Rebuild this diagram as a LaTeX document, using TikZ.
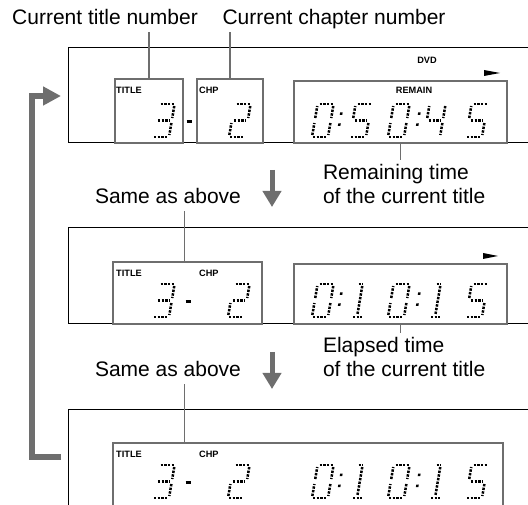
\documentclass[tikz,border=0pt]{standalone}
\usepackage{fontspec}
\setmainfont{Liberation Sans}
\usetikzlibrary{arrows.meta,positioning}

\definecolor{framegray}{HTML}{6E6E6E}

\newcommand{\sgA}{\draw[lcd] (2,33) -- (15,33);}
\newcommand{\sgB}{\draw[lcd] (16,31) -- (16,19);}
\newcommand{\sgC}{\draw[lcd] (16,14) -- (16,2);}
\newcommand{\sgD}{\draw[lcd] (1,0) -- (14,0);}
\newcommand{\sgE}{\draw[lcd] (0,2) -- (0,14);}
\newcommand{\sgF}{\draw[lcd] (0,19) -- (0,31);}
\newcommand{\sgG}{\draw[lcd] (2,16.5) -- (14,16.5);}
\newcommand{\dgZero}{\sgA\sgB\sgC\sgD\sgE\sgF}
\newcommand{\dgOne}{\draw[lcd] (9,31) -- (9,2); \draw[lcd] (5,33) -- (9,33); \draw[lcd] (5,0) -- (14,0);}
\newcommand{\dgTwo}{\sgA\sgB\sgG\sgE\sgD}
\newcommand{\dgThree}{\sgA\sgB\sgG\sgC\sgD}
\newcommand{\dgFour}{\sgF\sgG\sgB\sgC}
\newcommand{\dgFive}{\sgA\sgF\sgG\sgC\sgD}
\newcommand{\dgColon}{\fill (0,11) rectangle (2.5,13.5); \fill (0,22) rectangle (2.5,24.5);}
\newcommand{\dgDash}{\draw[line width=2.4pt] (0,15.5) -- (5,15.5);}
\newcommand{\lcddigit}[3]{\begin{scope}[shift={(#1,#2)}, xslant=0.17]#3\end{scope}}

\begin{document}
\begin{tikzpicture}[
    x=1pt, y=1pt,
    lbl/.style={font=\fontsize{21}{24}\selectfont, inner sep=0, outer sep=0, text height=20pt, text depth=7pt},
    tag/.style={font=\bfseries\fontsize{9.2}{10}\selectfont, inner sep=0},
    lcdbox/.style={draw=framegray, line width=1.5pt, inner sep=0, outer sep=0, anchor=south west},
    panel/.style={draw=black, line width=1pt},
    leader/.style={draw=framegray, line width=1.4pt},
    lcd/.style={line width=2.5pt, dash pattern=on 2.4pt off 1.3pt},
    downarrow/.style={draw=framegray, line width=5pt, -{Triangle[length=16pt, width=18pt]}},
    looparrow/.style={draw=framegray, line width=6pt, line join=miter, -{Triangle[length=18pt, width=18pt]}},
    >=Stealth
]
    \useasboundingbox (0,0) rectangle (528,504);

    \draw[panel] (528,456) -- (68,456) -- (68,361) -- (528,361);
    \draw[panel] (528,276) -- (68,276) -- (68,180) -- (528,180);
    \draw[panel] (528,94) -- (68,94) -- (68,-20);

    \node[lcdbox, minimum width=68pt, minimum height=64pt] (title1) at (115,361) {};
    \node[lcdbox, minimum width=66pt, minimum height=64pt] (chp1) at (197,361) {};
    \node[lcdbox, minimum width=213pt, minimum height=62pt] (remain1) at (294,361) {};
    \node[lcdbox, minimum width=149pt, minimum height=62pt] (tc2) at (113,180) {};
    \node[lcdbox, minimum width=213pt, minimum height=60pt] (time2) at (294,180) {};
    \node[lcdbox, minimum width=390pt, minimum height=81pt] (tc3) at (113,-20) {};

    \node[tag, anchor=base west] (ttl1) at (116,410) {TITLE};
    \node[tag, anchor=base west] (chpl1) at (199,410) {CHP};
    \node[tag, anchor=base] (rem1) at (414,410) {REMAIN};
    \node[tag, anchor=base] (dvd1) at (427,440) {DVD};
    \node[tag, anchor=base west] (ttl2) at (116,227) {TITLE};
    \node[tag, anchor=base west] (chpl2) at (199,227) {CHP};
    \node[tag, anchor=base west] (ttl3) at (116,47) {TITLE};
    \node[tag, anchor=base west] (chpl3) at (199,47) {CHP};

    \fill (484,434) -- (500,431) -- (484,428) -- cycle;
    \fill (483,251) -- (498,248) -- (483,245) -- cycle;

    \lcddigit{153}{367}{\dgThree}
    \lcddigit{184}{367}{\dgDash}
    \lcddigit{229}{367}{\dgTwo}
    \foreach \px/\dg in {312/\dgZero, 336/\dgColon, 350/\dgFive, 388/\dgZero, 414/\dgColon, 424/\dgFour, 466/\dgFive}
        {\lcddigit{\px}{367}{\dg}}

    \foreach \py in {187,6} {
        \lcddigit{153}{\py}{\dgThree}
        \lcddigit{183}{\py}{\dgDash}
        \lcddigit{228}{\py}{\dgTwo}
        \foreach \px/\dg in {312/\dgZero, 336/\dgColon, 348/\dgOne, 388/\dgZero, 414/\dgColon, 426/\dgOne, 466/\dgFive}
            {\lcddigit{\px}{\py}{\dg}}
    }

    \node[lbl, anchor=base] (curtitle) at (105,479) {Current title number};
    \node[lbl, anchor=base] (curchap) at (334,479) {Current chapter number};
    \node[lbl, anchor=base west] (remtxt) at (323,324) {Remaining time};
    \node[lbl, anchor=base west] (remtxtb) at (323,300) {of the current title};
    \node[lbl, anchor=base] (same2) at (168,300) {Same as above};
    \node[lbl, anchor=base west] (elaptxt) at (323,151) {Elapsed time};
    \node[lbl, anchor=base west] (elaptxtb) at (323,127) {of the current title};
    \node[lbl, anchor=base] (same3) at (168,127) {Same as above};

    \draw[leader] (title1.north) -- (title1.north |- curtitle.south);
    \draw[leader] (chp1.north) -- (chp1.north |- curchap.south);
    \draw[leader] (remain1.south) -- (remain1.south |- remtxt.north);
    \draw[leader] ([xshift=71.5pt]tc2.north west) -- ([xshift=71.5pt]tc2.north west |- same2.south);
    \draw[leader] (time2.south) -- (time2.south |- elaptxt.north);
    \draw[leader] ([xshift=71.5pt]tc3.north west) -- ([xshift=71.5pt]tc3.north west |- same3.south);

    \draw[downarrow] (272,334) -- (272,297);
    \draw[downarrow] (272,152) -- (272,115);
    \draw[looparrow] (61,47) -| (32,408) -- (61,408);
\end{tikzpicture}
\end{document}
